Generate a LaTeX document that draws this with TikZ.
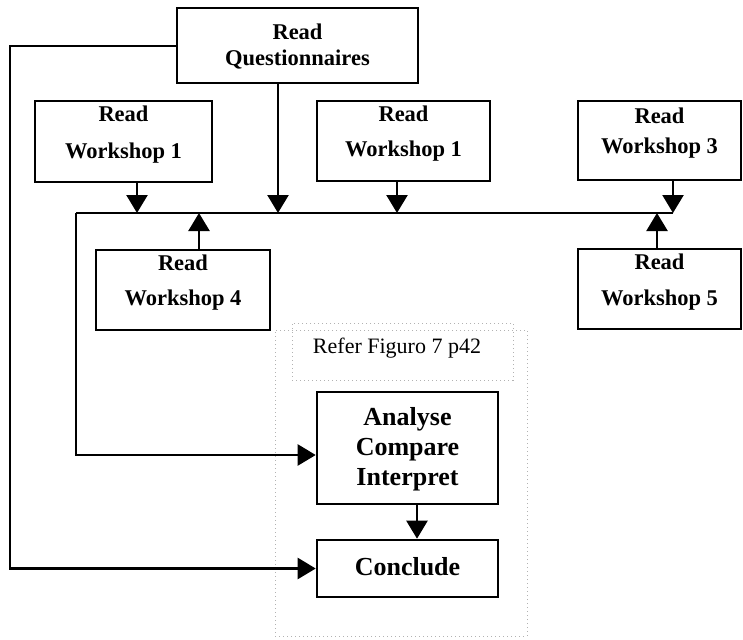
\documentclass[tikz,border=0pt]{standalone}
\usepackage{fontspec}
\setmainfont{Liberation Serif}
\usetikzlibrary{arrows.meta,calc}
\begin{document}
\begin{tikzpicture}[x=1pt,y=-1pt,
  box/.style={draw,line width=2.6pt,inner sep=0pt},
  lbl/.style={font=\bfseries\fontsize{22.5}{22.5}\selectfont,inner sep=0pt},
  big/.style={font=\bfseries\fontsize{26}{26}\selectfont,inner sep=0pt},
  wire/.style={line width=2.4pt},
  arr/.style={line width=2.4pt,-{Triangle[width=21pt,length=18pt]}},
  frame/.style={draw=gray!60,line width=0.9pt,dash pattern=on 1pt off 3pt}]
\useasboundingbox (0,0) rectangle (743,639);
% dotted frame
\node[frame,minimum width=252pt,minimum height=306pt] (fr) at (401,483) {};
\node[frame,minimum width=221pt,minimum height=57pt] (rf) at (402.5,351.5) {};
\node[inner sep=0pt,font=\fontsize{22}{22}\selectfont] (rft) at (397,348) {Refer Figuro 7 p42};
% boxes
\node[box,minimum width=241pt,minimum height=75pt] (Q) at (297.5,45.5) {};
\node[lbl] (Qa) at (297.5,32) {Read};
\node[lbl] (Qb) at (297.5,60) {Questionnaires};
\node[box,minimum width=177pt,minimum height=81pt] (W1) at (123.5,141.5) {};
\node[lbl] (W1a) at (123.5,114) {Read};
\node[lbl] (W1b) at (123.5,153) {Workshop 1};
\node[box,minimum width=173pt,minimum height=80pt] (W2) at (403.5,141) {};
\node[lbl] (W2a) at (403.5,114) {Read};
\node[lbl] (W2b) at (403.5,151) {Workshop 1};
\node[box,minimum width=163pt,minimum height=79pt] (W3) at (659.5,140.5) {};
\node[lbl] (W3a) at (659.5,116) {Read};
\node[lbl] (W3b) at (659.5,148) {Workshop 3};
\node[box,minimum width=174pt,minimum height=80pt] (W4) at (183,290) {};
\node[lbl] (W4a) at (183,263) {Read};
\node[lbl] (W4b) at (183,300) {Workshop 4};
\node[box,minimum width=163pt,minimum height=80pt] (W5) at (659.5,289) {};
\node[lbl] (W5a) at (659.5,262) {Read};
\node[lbl] (W5b) at (659.5,300) {Workshop 5};
\node[box,minimum width=181pt,minimum height=112pt] (A) at (407.5,448) {};
\node[big] (Aa) at (407.5,419) {Analyse};
\node[big] (Ab) at (407.5,450) {Compare};
\node[big] (Ac) at (407.5,480) {Interpret};
\node[box,minimum width=181pt,minimum height=57pt] (C) at (407.5,568.5) {};
\node[big] (Ca) at (407.5,567) {Conclude};
% bus coordinates
\coordinate (bL) at (76,213);
\coordinate (bR) at (673,213);
\coordinate (b1) at (137,213);
\coordinate (bq) at (278,213);
\coordinate (b4) at (199,213);
\coordinate (b2) at (397,213);
\coordinate (b5) at (657,213);
\coordinate (oL) at (10,46);
% wires
\draw[wire] (bR) -- (bL);
\draw[arr] (bL) |- ([yshift=-7pt]A.west);
\draw[arr] (Q.west |- oL) -- (oL) |- (C.west);
\draw[arr] (Q.south -| bq) -- (bq);
\draw[arr] (W1.south -| b1) -- (b1);
\draw[arr] (W2.south -| b2) -- (b2);
\draw[arr] (W3.south -| bR) -- (bR);
\draw[arr] (W4.north -| b4) -- (b4);
\draw[arr] (W5.north -| b5) -- (b5);
\draw[arr] (A.south -| 417,0) -- (C.north -| 417,0);
\end{tikzpicture}
\end{document}
